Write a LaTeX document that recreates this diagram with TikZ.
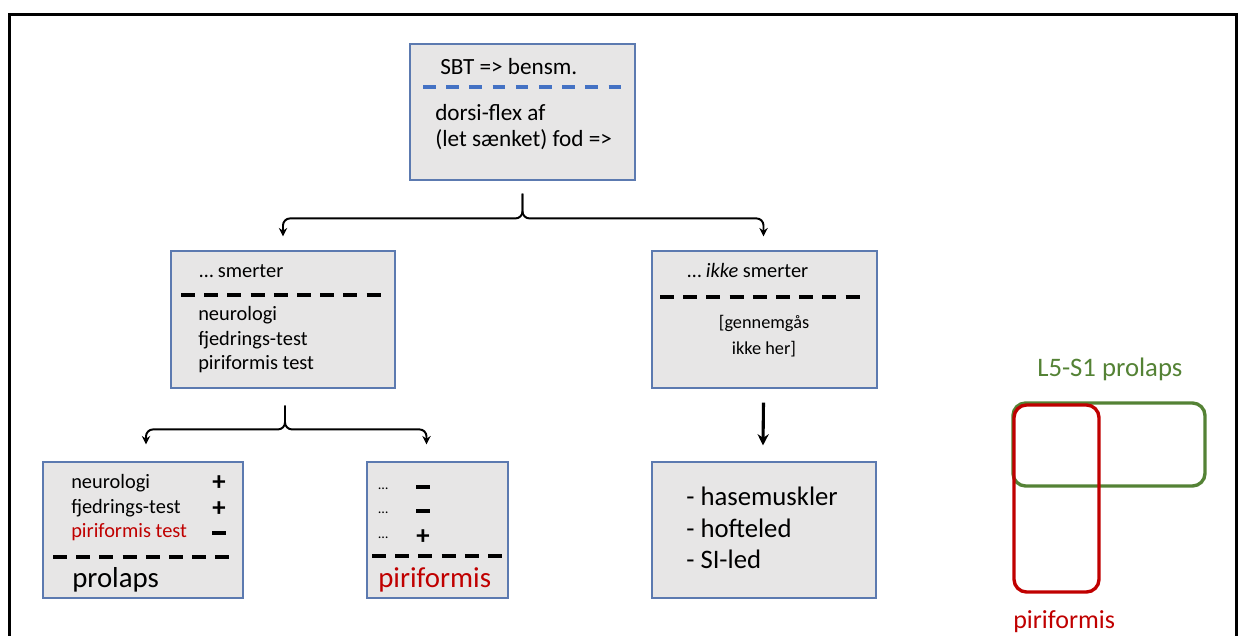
\documentclass[tikz,border=0pt]{standalone}
\usepackage{fontspec}
\setmainfont{Carlito}
\usetikzlibrary{arrows.meta,calc}
\definecolor{bxgrey}{RGB}{231,230,230}
\definecolor{bxblue}{RGB}{92,122,176}
\definecolor{sepblue}{RGB}{68,114,196}
\definecolor{vgreen}{RGB}{84,130,53}
\definecolor{vred}{RGB}{192,0,0}

\begin{document}
\begin{tikzpicture}[x=0.025cm,y=0.025cm,box/.style={draw=bxblue,fill=bxgrey,line width=0.8pt,inner sep=0pt,minimum height=3.4cm},txt/.style={anchor=base west,inner sep=0pt,font=\fontsize{14.5}{17}\selectfont},big/.style={anchor=base west,inner sep=0pt,font=\fontsize{20.5}{24}\selectfont},plus/.style={inner sep=0pt,text height=10pt,text depth=0pt,font=\fontsize{19}{19}\selectfont\bfseries},minus/.style={inner sep=0pt,fill=black,minimum width=9.5pt,minimum height=2.6pt},sep/.style={line width=2.4pt,dash pattern=on 10pt off 6.5pt},flow/.style={-{Stealth[length=6pt,width=6pt]},line width=1.4pt,rounded corners=5pt},venn/.style={line width=2.4pt,rounded corners=9pt,inner sep=0pt}]
\useasboundingbox (0,0) rectangle (1238,-636);
\draw[line width=1.9pt] (9.7,-14.5) rectangle (1236.8,-700);
\node[box,minimum width=5.625cm] (top) at (522.5,-112) {};
\node[box,minimum width=5.6cm,minimum height=3.425cm] (sl) at (283,-319.5) {};
\node[box,minimum width=5.625cm,minimum height=3.425cm] (sr) at (764.5,-319.5) {};
\node[box,minimum width=5cm] (bl) at (143,-530) {};
\node[box,minimum width=3.525cm] (bm) at (437.5,-530) {};
\node[box,minimum width=5.6cm] (br) at (764,-530) {};
\node[txt,font=\fontsize{16.5}{19}\selectfont] (sbt) at (440,-75) {SBT => bensm.};
\draw[sepblue,line width=2.6pt,dash pattern=on 9pt off 7.5pt] (423,-87) -- (630,-87);
\node[txt,font=\fontsize{16.5}{19}\selectfont] (dorsi) at (435,-121) {dorsi-flex af};
\node[txt,font=\fontsize{16.5}{19}\selectfont] (fod) at (435,-147) {(let sænket) fod =>};
\node[txt] (smerter) at (199,-278) {… smerter};
\draw[sep] (181,-295) -- (387,-295);
\node[txt] (neuro) at (198,-321) {neurologi};
\node[txt] (fjed) at (198,-346) {fjedrings-test};
\node[txt] (piri) at (198,-370) {piriformis test};
\node[txt] (ikke) at (687,-278) {… \textit{ikke} smerter};
\draw[sep] (660,-297) -- (868,-297);
\node[txt,anchor=base,font=\fontsize{13}{15}\selectfont] (genn) at (764,-329) {[gennemgås};
\node[txt,anchor=base,font=\fontsize{13}{15}\selectfont] (her) at (764,-355) {ikke her]};
\node[txt] (neurob) at (71,-488) {neurologi};
\node[txt] (fjedb) at (71,-513) {fjedrings-test};
\node[txt,text=vred] (pirib) at (71,-537) {piriformis test};
\node[plus] (s1) at (219,-483) {+};
\node[plus] (s2) at (219,-509) {+};
\node[minus] (s3) at (219,-533) {};
\draw[sep] (53,-557) -- (238,-557);
\node[big] (prolaps) at (72,-587) {prolaps};
\node[txt,font=\fontsize{10}{12}\selectfont] (d1) at (378,-489) {…};
\node[txt,font=\fontsize{10}{12}\selectfont] (d2) at (378,-513) {…};
\node[txt,font=\fontsize{10}{12}\selectfont] (d3) at (378,-538) {…};
\node[minus] (m1) at (423,-487) {};
\node[minus] (m2) at (423,-511) {};
\node[plus] (m3) at (423,-537) {+};
\draw[sep] (372,-556) -- (503,-556);
\node[big,text=vred] (piriform) at (378,-587) {piriformis};
\node[txt,font=\fontsize{19}{22}\selectfont] (hase) at (686,-505) {- hasemuskler};
\node[txt,font=\fontsize{19}{22}\selectfont] (hofte) at (686,-537) {- hofteled};
\node[txt,font=\fontsize{19}{22}\selectfont] (si) at (686,-568) {- SI-led};
\coordinate (fork1) at ($(top.south)+(0,-13)$);
\coordinate (fork2) at ($(sl.south)+(2,-17)$);
\draw[flow] (fork1) |- ($(sl.north)+(0,32)$) -- ($(sl.north)+(0,14)$);
\draw[flow] (fork1) |- ($(sr.north)+(-1,32)$) -- ($(sr.north)+(-1,14)$);
\draw[flow] (fork2) |- ($(bl.north)+(3,32)$) -- ($(bl.north)+(3,17)$);
\draw[flow] (fork2) |- ($(bm.north)+(-11,32)$) -- ($(bm.north)+(-11,17)$);
\draw[flow,-{Stealth[length=8pt,width=8pt]},line width=2.2pt,rounded corners=0pt] ($(sr.south)+(-1,-14)$) -- ($(br.north)+(-1,16)$);
\node[venn,draw=vgreen,minimum width=4.8cm,minimum height=2.075cm] (prolset) at (1109,-444.5) {};
\node[venn,draw=vred,minimum width=2.125cm,minimum height=4.675cm] (piriset) at (1056.5,-498.5) {};
\node[txt,text=vgreen,font=\fontsize{19}{22}\selectfont] (prollab) at (1037,-377) {L5-S1 prolaps};
\node[txt,text=vred,font=\fontsize{18.5}{22}\selectfont] (pirilab) at (1013,-628) {piriformis};
\end{tikzpicture}
\end{document}
